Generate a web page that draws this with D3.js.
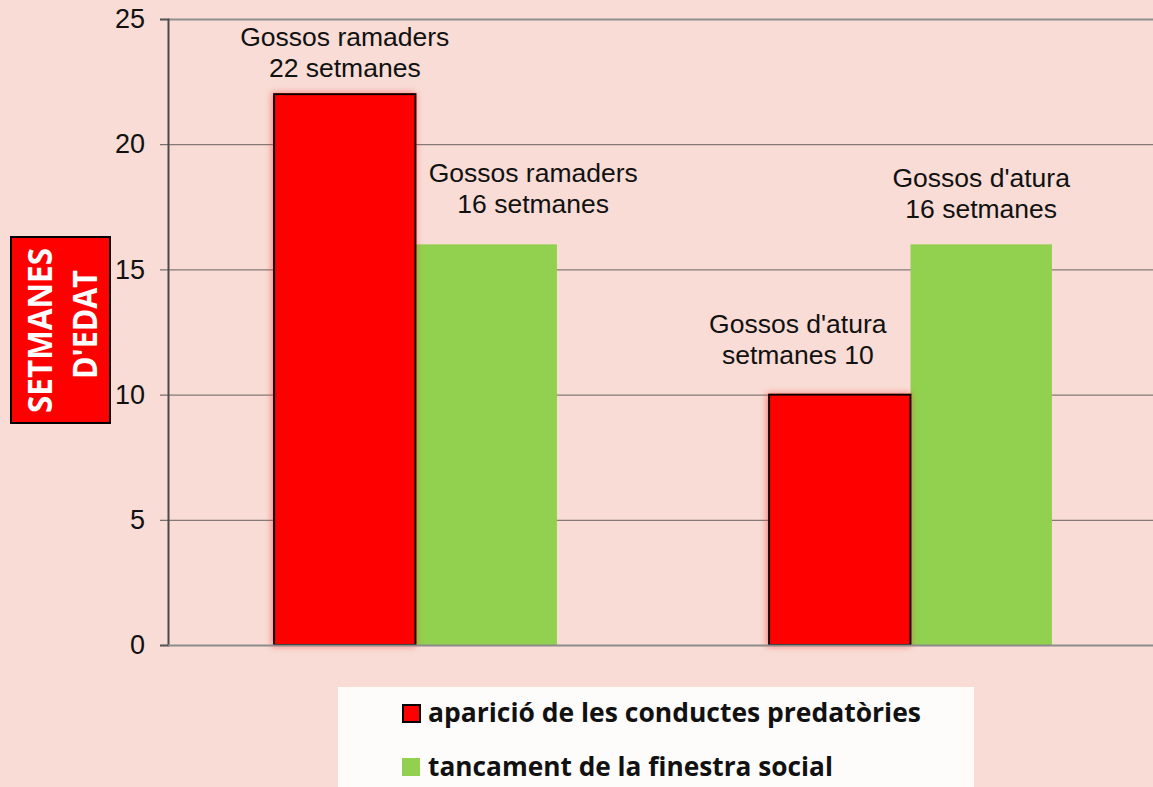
<!DOCTYPE html>
<html>
<head>
<meta charset="utf-8">
<script src="https://cdn.jsdelivr.net/npm/d3@7"></script>
<style>
  html, body { margin: 0; padding: 0; background: #f8dcd5; }
  svg { display: block; }
</style>
</head>
<body>
<svg id="chart" width="1153" height="787"></svg>
<script>
// data
var groups = ["Gossos ramaders", "Gossos d'atura"];
var series = ["aparició de les conductes predatòries", "tancament de la finestra social"];
var predatory = [22, 10];
var socialWindow = [16, 16];
var yTicks = [0, 5, 10, 15, 20, 25];
var barLabels = [
  ["Gossos ramaders", "22 setmanes"],
  ["Gossos ramaders", "16 setmanes"],
  ["Gossos d'atura", "setmanes 10"],
  ["Gossos d'atura", "16 setmanes"]
];
var yTitle = ["SETMANES", "D'EDAT"];

var colors = ["#ff0000", "#92d050"];

// layout
var plotLeft = 168, plotRight = 1158, plotTop = 19, plotBottom = 645;
var svg = d3.select("#chart");

var y = d3.scaleLinear().domain([0, 25]).range([plotBottom, plotTop]);
var x0 = d3.scaleBand().domain(groups).range([plotLeft, plotRight]);
var x1 = d3.scaleBand().domain(series).range([0, x0.bandwidth()]).paddingOuter(0.75);

// soft red glow behind the red bars
var defs = svg.append("defs");
var glow = defs.append("filter").attr("id", "glow")
  .attr("x", "-20%").attr("y", "-20%").attr("width", "140%").attr("height", "140%");
glow.append("feDropShadow")
  .attr("dx", -1).attr("dy", 0).attr("stdDeviation", 3)
  .attr("flood-color", "#ff2020").attr("flood-opacity", 0.55);

// gridlines
svg.append("g").selectAll("line")
  .data(yTicks.filter(function (d) { return d > 0; }))
  .enter().append("line")
  .attr("x1", plotLeft).attr("x2", 1153)
  .attr("y1", function (d) { return y(d) + 0.5; })
  .attr("y2", function (d) { return y(d) + 0.5; })
  .attr("stroke", function (d) { return d === 25 ? "#8f8f8f" : "#6a6262"; })
  .attr("stroke-width", function (d) { return d === 25 ? 2 : 1; });

// y axis
var yAxis = d3.axisLeft(y).tickValues(yTicks).tickSize(8).tickPadding(15);
var yAxisG = svg.append("g")
  .attr("transform", "translate(" + plotLeft + ",0)")
  .call(yAxis);
yAxisG.select(".domain").attr("stroke", "#4a4a4a").attr("stroke-width", 2);
yAxisG.selectAll(".tick line").attr("stroke", "#555").attr("stroke-width", 1);
yAxisG.selectAll(".tick text")
  .attr("font-family", "'Liberation Sans', Arial, sans-serif")
  .attr("font-size", 27)
  .attr("fill", "#111");

// bars
var rows = groups.map(function (g, i) {
  return [
    { group: g, key: series[0], value: predatory[i], idx: 0 },
    { group: g, key: series[1], value: socialWindow[i], idx: 1 }
  ];
});

var groupG = svg.append("g").selectAll("g")
  .data(rows)
  .enter().append("g")
  .attr("transform", function (d, i) { return "translate(" + x0(groups[i]) + ",0)"; });

// green first so the red outline sits on top
groupG.selectAll("rect")
  .data(function (d) { return d.slice().reverse(); })
  .enter().append("rect")
  .attr("x", function (d) { return x1(d.key); })
  .attr("y", function (d) { return y(d.value); })
  .attr("width", x1.bandwidth())
  .attr("height", function (d) { return plotBottom - y(d.value); })
  .attr("fill", function (d) { return colors[d.idx]; })
  .attr("stroke", function (d) { return d.idx === 0 ? "#000" : "none"; })
  .attr("stroke-width", 2)
  .attr("filter", function (d) { return d.idx === 0 ? "url(#glow)" : null; });

// x axis line
svg.append("line")
  .attr("x1", plotLeft).attr("x2", 1153)
  .attr("y1", plotBottom + 0.5).attr("y2", plotBottom + 0.5)
  .attr("stroke", "#8c8c8c").attr("stroke-width", 2);

// hand placed labels over the bars (offsets from bar centre / top)
var labelShift = [
  { dx: 0, dy: -17 },
  { dx: 47, dy: -31 },
  { dx: -42, dy: -31 },
  { dx: 0, dy: -26 }
];
var barData = [];
rows.forEach(function (r) { barData.push(r[0], r[1]); });

var labelG = svg.append("g")
  .attr("font-family", "'Liberation Sans', Arial, sans-serif")
  .attr("font-size", 26.5)
  .attr("fill", "#111")
  .attr("text-anchor", "middle");

barData.forEach(function (d, i) {
  var cx = x0(d.group) + x1(d.key) + x1.bandwidth() / 2 + labelShift[i].dx;
  var base = y(d.value) + labelShift[i].dy;
  labelG.append("text")
    .attr("x", cx).attr("y", base - 31)
    .text(barLabels[i][0]);
  labelG.append("text")
    .attr("x", cx).attr("y", base)
    .text(barLabels[i][1]);
});

// y title box
svg.append("rect")
  .attr("x", 11).attr("y", 237)
  .attr("width", 99).attr("height", 186)
  .attr("fill", "#ff0000")
  .attr("stroke", "#000").attr("stroke-width", 2);

var titleG = svg.append("g")
  .attr("font-family", "'Open Sans', sans-serif")
  .attr("font-weight", 700)
  .attr("font-size", 34)
  .attr("fill", "#fff")
  .attr("text-anchor", "middle");
titleG.append("text")
  .attr("transform", "translate(52,330.5) rotate(-90)")
  .attr("textLength", 165).attr("lengthAdjust", "spacingAndGlyphs")
  .text(yTitle[0]);
titleG.append("text")
  .attr("transform", "translate(97,324.5) rotate(-90)")
  .attr("textLength", 109).attr("lengthAdjust", "spacingAndGlyphs")
  .text(yTitle[1]);

// legend
svg.append("rect")
  .attr("x", 338).attr("y", 687)
  .attr("width", 636).attr("height", 110)
  .attr("fill", "#fefcfb");

var legendWidths = [493, 405];
var legend = svg.append("g").selectAll("g")
  .data(series)
  .enter().append("g")
  .attr("transform", function (d, i) { return "translate(402," + (704 + i * 54) + ")"; });

legend.append("rect")
  .attr("x", function (d, i) { return i === 0 ? 1 : 0; })
  .attr("y", function (d, i) { return i === 0 ? 1 : 0; })
  .attr("width", function (d, i) { return i === 0 ? 17 : 18; })
  .attr("height", function (d, i) { return i === 0 ? 17 : 18; })
  .attr("fill", function (d, i) { return colors[i]; })
  .attr("stroke", function (d, i) { return i === 0 ? "#000" : "none"; })
  .attr("stroke-width", 2);

legend.append("text")
  .attr("x", 26).attr("y", 18)
  .attr("font-family", "'Open Sans', sans-serif")
  .attr("font-weight", 700)
  .attr("font-size", 27)
  .attr("fill", "#111")
  .attr("textLength", function (d, i) { return legendWidths[i]; })
  .attr("lengthAdjust", "spacingAndGlyphs")
  .text(function (d) { return d; });
</script>
</body>
</html>
